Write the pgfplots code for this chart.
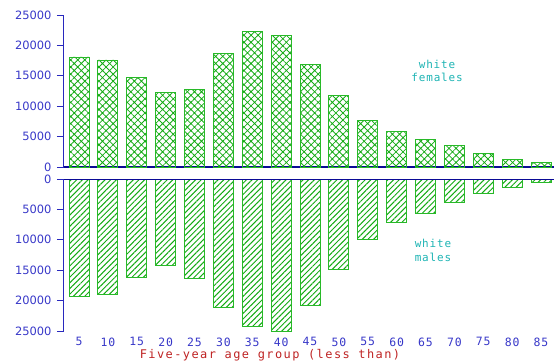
\documentclass[border=0pt]{standalone}
\usepackage{fontspec}
\setmainfont{DejaVu Sans}
\newfontfamily\monofont[LetterSpace=8]{DejaVu Sans Mono}
\newfontfamily\monowide[LetterSpace=12]{DejaVu Sans Mono}
\usepackage{pgfplots}
\usepackage{pgfplotstable}
\pgfplotsset{compat=1.18}
\usetikzlibrary{patterns.meta}
\definecolor{axisblue}{RGB}{40,40,190}
\definecolor{ticklab}{RGB}{55,55,200}
\definecolor{navy}{RGB}{10,10,150}
\definecolor{bargreen}{RGB}{40,185,40}
\definecolor{patgreen}{RGB}{20,170,20}
\definecolor{tealtext}{RGB}{30,180,180}
\definecolor{redlab}{RGB}{190,35,35}

\pgfplotstableread{
x y
5 18100
10 17600
15 14800
20 12300
25 12800
30 18700
35 22300
40 21700
45 16800
50 11700
55 7700
60 5900
65 4600
70 3600
75 2300
80 1300
85 800
}\females

\pgfplotstableread{
x y
5 -19350
10 -18970
15 -16120
20 -14140
25 -16340
30 -21050
35 -24180
40 -25000
45 -20780
50 -14800
55 -9920
60 -7130
65 -5650
70 -3840
75 -2360
80 -1320
85 -600
}\males

\pgfplotsset{
 common/.style={
  width=490bp, height=152bp, scale only axis,
  xmin=2.4, xmax=87.25,
  ybar, bar width=20bp,
  scaled y ticks=false, scaled x ticks=false,
  axis y line*=left, axis x line*=bottom,
  y axis line style={draw=axisblue, line width=1bp, -},
  x axis line style={draw=navy, line width=1.2bp, -},
  xtick={5,10,...,85},
  xtick style={draw=none},
  ytick style={draw=axisblue, line width=1bp},
  ytick align=outside,
  major tick length=7bp,
  yticklabel style={font=\fontsize{11.5}{12}\selectfont, text=ticklab, xshift=-2bp},
  xticklabel style={font=\monofont\fontsize{11.5}{12}\selectfont, text=ticklab, yshift=4bp},
  /pgf/number format/.cd, 1000 sep={}, assume math mode=true,
 },
}

\begin{document}
\begin{tikzpicture}
\path[use as bounding box] (-64bp,-197bp) rectangle (490bp,167bp);
\begin{axis}[common,
  at={(0,0)}, anchor=south west,
  ymin=0, ymax=25000,
  ytick={0,5000,10000,15000,20000,25000},
  xticklabels={},
]
\addplot[draw=bargreen, line width=0.8bp,
  pattern={Hatch[angle=45,distance=5bp,line width=0.8bp]}, pattern color=patgreen]
  table {\females};
\node[text=tealtext, align=center, font=\monofont\fontsize{11}{14}\selectfont]
  at (axis cs:67,15800) {white\\females};
\end{axis}
\begin{axis}[common,
  at={(0,-12bp)}, anchor=north west,
  ymin=-25000, ymax=0,
  ytick={-25000,-20000,-15000,-10000,-5000,0},
  yticklabels={25000,20000,15000,10000,5000,0},
  x axis line style={draw=none},
  xlabel={Five-year age group (less than)},
  xlabel style={font=\monowide\fontsize{12}{12}\selectfont, text=redlab, yshift=4bp, xshift=-39bp},
]
\addplot[draw=bargreen, line width=0.8bp,
  pattern={Lines[angle=45,distance=4bp,line width=1bp]}, pattern color=patgreen]
  table {\males};
\draw[navy, line width=1.2bp] (rel axis cs:0,1) -- (rel axis cs:1,1);
\node[text=tealtext, align=center, font=\monofont\fontsize{11}{14}\selectfont]
  at (axis cs:66.3,-11700) {white\\males};
\end{axis}
\end{tikzpicture}
\end{document}
